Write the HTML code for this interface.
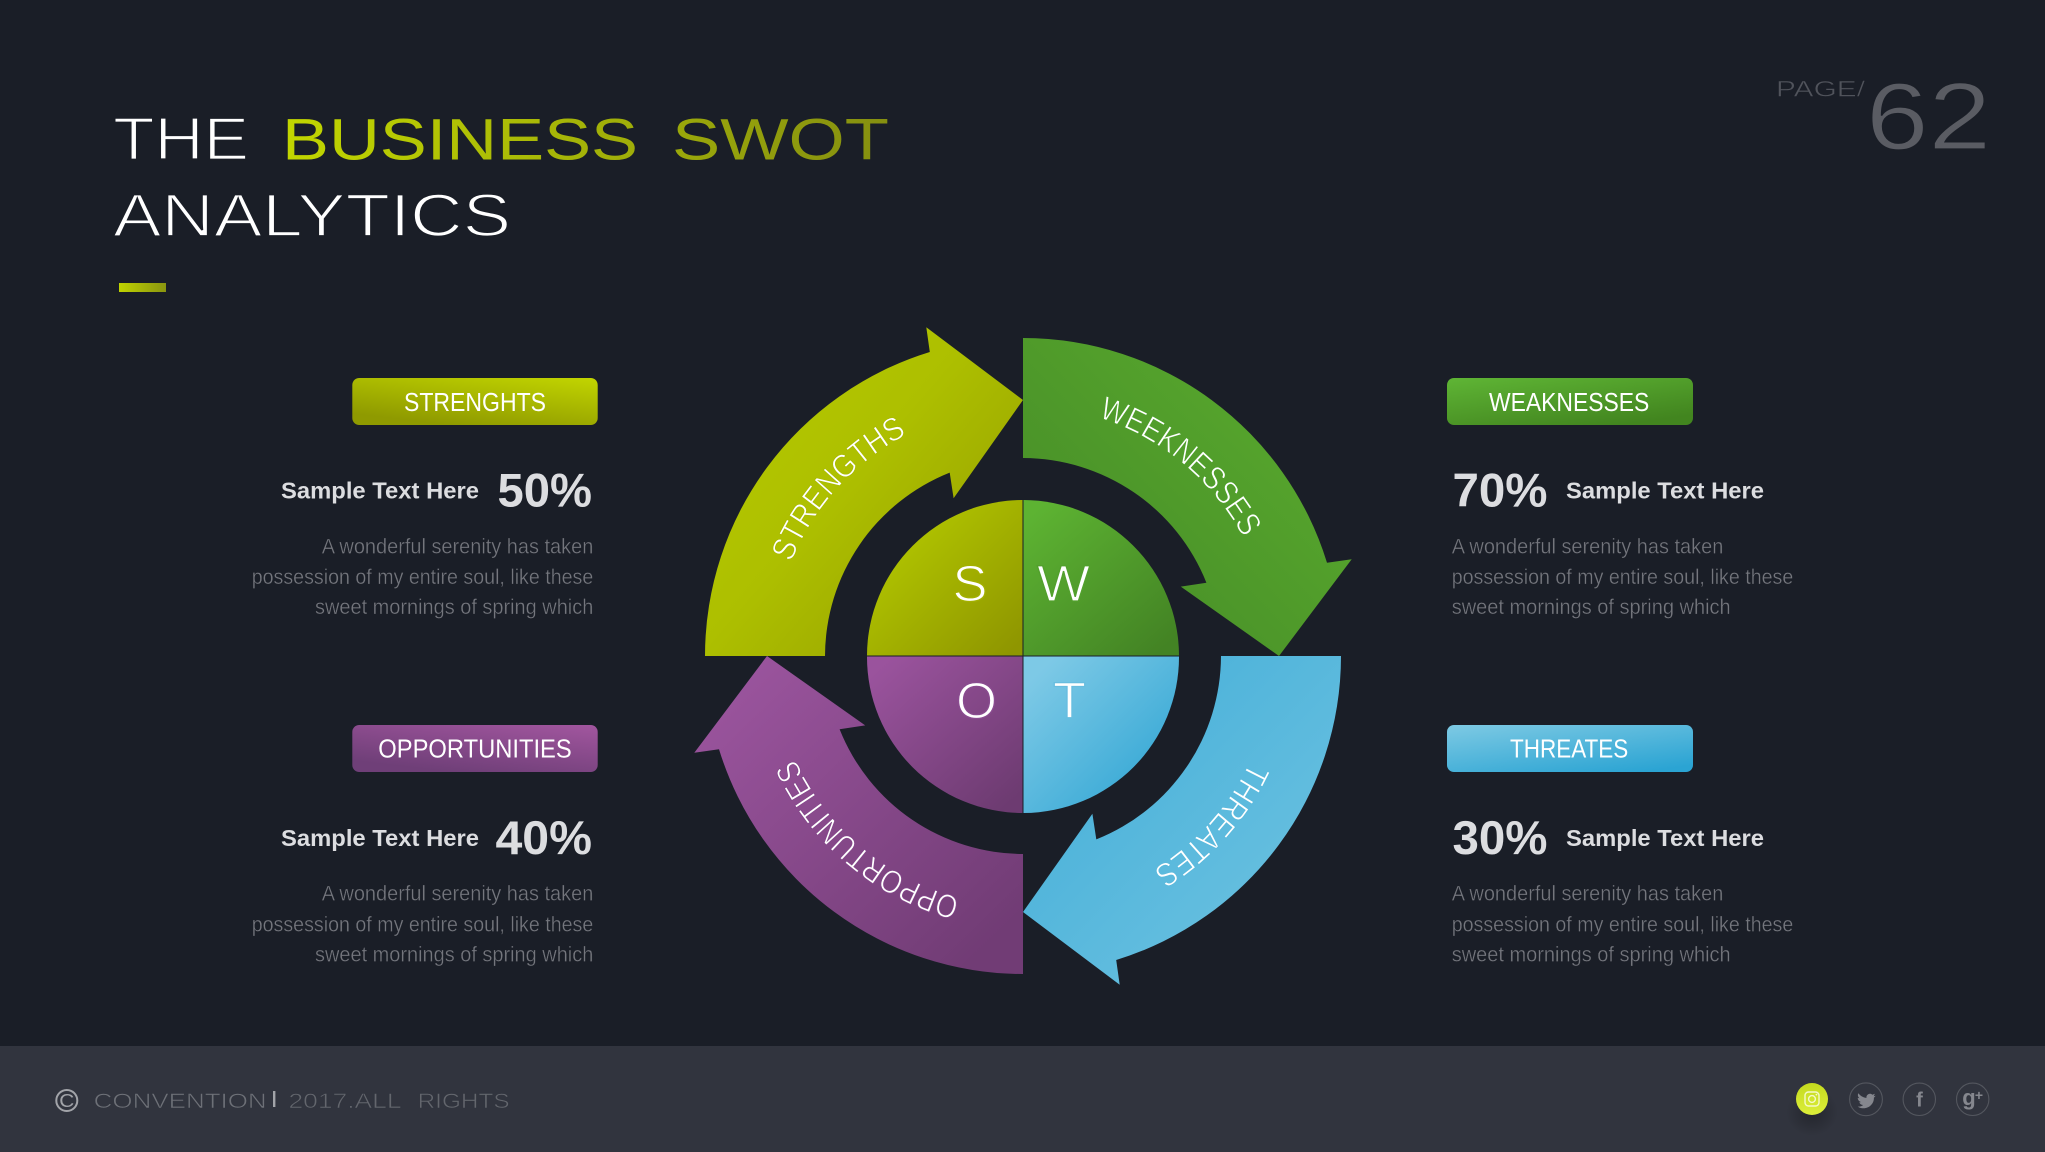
<!DOCTYPE html>
<html><head><meta charset="utf-8"><title>SWOT</title>
<style>
html,body{margin:0;padding:0;background:#1a1e27;width:2045px;height:1152px;overflow:hidden}
svg{display:block;font-family:"Liberation Sans",sans-serif}
.b{font-weight:700;fill:#dcdde0}
.st{font-size:23px}
.pc{font-size:47px}
.p{font-size:21.5px;fill:#74767d;stroke:#1a1e27;stroke-width:.35px}
.pl{font-size:25.5px;fill:#fff;stroke-width:0}
.arc{font-size:33px;fill:#fff;stroke-width:.8px}
.L{font-size:51px;fill:#fff}
.thin{stroke:#1a1e27;stroke-width:1.7px}
</style></head><body>
<svg width="2045" height="1152" viewBox="0 0 2045 1152" xmlns="http://www.w3.org/2000/svg">
<defs>
<linearGradient id="gS" x1="0.05" y1="0.1" x2="0.95" y2="0.9"><stop offset="0" stop-color="#b6ca00"/><stop offset=".45" stop-color="#adbf00"/><stop offset="1" stop-color="#949e00"/></linearGradient>
<linearGradient id="gW" x1="0.95" y1="0.1" x2="0.1" y2="0.9"><stop offset="0" stop-color="#5aab2e"/><stop offset="1" stop-color="#468c27"/></linearGradient>
<linearGradient id="gT" x1="0.1" y1="0.1" x2="0.9" y2="0.9"><stop offset="0" stop-color="#46afd8"/><stop offset="1" stop-color="#6cc2e1"/></linearGradient>
<linearGradient id="gO" x1="0.1" y1="0.1" x2="0.9" y2="0.9"><stop offset="0" stop-color="#9a549d"/><stop offset="1" stop-color="#713c75"/></linearGradient>
<linearGradient id="qS" x1="0.15" y1="0.15" x2="0.95" y2="0.95"><stop offset="0" stop-color="#b3c800"/><stop offset="1" stop-color="#8f9600"/></linearGradient>
<linearGradient id="qW" x1="0.1" y1="0.05" x2="0.9" y2="0.95"><stop offset="0" stop-color="#5db332"/><stop offset="1" stop-color="#438324"/></linearGradient>
<linearGradient id="qT" x1="0.1" y1="0.1" x2="0.8" y2="0.8"><stop offset="0" stop-color="#7dc9e6"/><stop offset="1" stop-color="#3aaad6"/></linearGradient>
<linearGradient id="qO" x1="0.1" y1="0.05" x2="0.9" y2="0.95"><stop offset="0" stop-color="#9a539d"/><stop offset="1" stop-color="#6d3b71"/></linearGradient>
<linearGradient id="pS" x1="1" y1="0" x2="0.4" y2="1"><stop offset="0" stop-color="#c2d500"/><stop offset="1" stop-color="#8f9a00"/></linearGradient>
<linearGradient id="pW" x1="0" y1="0" x2="0.7" y2="1"><stop offset="0" stop-color="#5fb535"/><stop offset="1" stop-color="#42851f"/></linearGradient>
<linearGradient id="pT" x1="0.1" y1="0" x2="0.8" y2="1"><stop offset="0" stop-color="#7ac8e3"/><stop offset="1" stop-color="#2ba4d3"/></linearGradient>
<linearGradient id="pO" x1="1" y1="0" x2="0.4" y2="1"><stop offset="0" stop-color="#a2569f"/><stop offset="1" stop-color="#6f3f78"/></linearGradient>
<linearGradient id="gTitle" gradientUnits="userSpaceOnUse" x1="285" y1="0" x2="887" y2="0"><stop offset="0" stop-color="#c2d600"/><stop offset="1" stop-color="#858f10"/></linearGradient>
<linearGradient id="gBar" x1="0" y1="0" x2="1" y2="0"><stop offset="0" stop-color="#bfd300"/><stop offset="1" stop-color="#8a9510"/></linearGradient>
<linearGradient id="gIg" x1="0.5" y1="0" x2="0.5" y2="1"><stop offset="0" stop-color="#c4da1e"/><stop offset="1" stop-color="#dcee3a"/></linearGradient>
<radialGradient id="sh"><stop offset="0" stop-color="#000" stop-opacity=".28"/><stop offset="1" stop-color="#000" stop-opacity="0"/></radialGradient>
<path id="aS" d="M791.2,562.4 A250,250 0 0 1 979.6,409.8"/>
<path id="aW" d="M1098.2,417.6 A250,250 0 0 1 1273,656"/>
<path id="aT" d="M1249.6,761.7 A250,250 0 0 1 1023,906"/>
<path id="aO" d="M960,897.9 A250,250 0 0 1 773,656"/>
</defs>

<rect width="2045" height="1152" fill="#1a1e27"/>
<rect y="1046" width="2045" height="106" fill="#31343e"/>

<!-- Title -->
<text x="113" y="159.3" font-size="60" fill="#fff" class="thin" textLength="136" lengthAdjust="spacingAndGlyphs">THE</text>
<text x="282" y="159.3" font-size="58" fill="url(#gTitle)" textLength="356" lengthAdjust="spacingAndGlyphs">BUSINESS</text>
<text x="672" y="159.3" font-size="58" fill="url(#gTitle)" textLength="217" lengthAdjust="spacingAndGlyphs">SWOT</text>
<text x="113" y="236" font-size="60" fill="#fff" class="thin" textLength="398" lengthAdjust="spacingAndGlyphs">ANALYTICS</text>
<rect x="119" y="283" width="47" height="9" fill="url(#gBar)"/>

<!-- Page -->
<text x="1776" y="96.7" font-size="22" fill="#50535b" stroke="#1a1e27" stroke-width=".5" textLength="89" lengthAdjust="spacingAndGlyphs">PAGE/</text>
<text x="1866" y="149" font-size="95" fill="#5a5c63" stroke="#1a1e27" stroke-width="1.2" textLength="125" lengthAdjust="spacingAndGlyphs">62</text>

<!-- Arrows -->
<path fill="url(#gS)" d="M705,656 A318,318 0 0 1 929.8,352 L926.3,327.3 L1023,400 L953.6,498.2 L949.7,472.6 A198,198 0 0 0 825,656 Z"/>
<path fill="url(#gW)" d="M1023,338 A318,318 0 0 1 1327,562.8 L1351.7,559.3 L1279,656 L1180.8,586.6 L1206.4,582.7 A198,198 0 0 0 1023,458 Z"/>
<path fill="url(#gT)" d="M1341,656 A318,318 0 0 1 1116.2,960 L1119.7,984.7 L1023,912 L1092.4,813.8 L1096.3,839.4 A198,198 0 0 0 1221,656 Z"/>
<path fill="url(#gO)" d="M1023,974 A318,318 0 0 1 719,749.2 L694.3,752.7 L767,656 L865.2,725.4 L839.6,729.3 A198,198 0 0 0 1023,854 Z"/>

<!-- Quadrants -->
<path fill="url(#qS)" d="M1022.5,655.5 H867 A156,156 0 0 1 1022.5,500 Z"/>
<path fill="url(#qW)" d="M1023.5,655.5 V500 A156,156 0 0 1 1179,655.5 Z"/>
<path fill="url(#qT)" d="M1023.5,656.5 H1179 A156,156 0 0 1 1023.5,813 Z"/>
<path fill="url(#qO)" d="M1022.5,656.5 V813 A156,156 0 0 1 867,656.5 Z"/>

<text class="L" x="952.5" y="601" stroke="#a3b000" stroke-width="1.3" textLength="35" lengthAdjust="spacingAndGlyphs">S</text>
<text class="L" x="1037" y="601" stroke="#52a02c" stroke-width="1.3" textLength="53" lengthAdjust="spacingAndGlyphs">W</text>
<text class="L" x="956" y="718" stroke="#8a4c90" stroke-width="1.3" textLength="41" lengthAdjust="spacingAndGlyphs">O</text>
<text class="L" x="1053" y="718" stroke="#68bddf" stroke-width="1.3" textLength="33" lengthAdjust="spacingAndGlyphs">T</text>

<!-- Arc labels -->
<text class="arc" stroke="#a9ba00"><textPath href="#aS" textLength="176" lengthAdjust="spacingAndGlyphs">STRENGTHS</textPath></text>
<text class="arc" stroke="#50a02c"><textPath href="#aW" textLength="193" lengthAdjust="spacingAndGlyphs">WEEKNESSES</textPath></text>
<text class="arc" stroke="#5cb9dc"><textPath href="#aT" textLength="147" lengthAdjust="spacingAndGlyphs">THREATES</textPath></text>
<text class="arc" stroke="#84478a"><textPath href="#aO" textLength="223" lengthAdjust="spacingAndGlyphs">OPPORTUNITIES</textPath></text>

<!-- Left top -->
<rect x="352.3" y="378" width="245.4" height="47" rx="7" fill="url(#pS)"/>
<text class="pl" x="404" y="411" textLength="142" lengthAdjust="spacingAndGlyphs">STRENGHTS</text>
<text class="b st" x="281" y="498.3" textLength="198" lengthAdjust="spacingAndGlyphs">Sample Text Here</text>
<text class="b pc" x="497.5" y="506.7" textLength="94.5" lengthAdjust="spacingAndGlyphs">50%</text>
<text class="p" x="321.7" y="553.3" textLength="271.6" lengthAdjust="spacingAndGlyphs">A wonderful serenity has taken</text>
<text class="p" x="251.7" y="584" textLength="341.6" lengthAdjust="spacingAndGlyphs">possession of my entire soul, like these</text>
<text class="p" x="315" y="614" textLength="278.3" lengthAdjust="spacingAndGlyphs">sweet mornings of spring which</text>

<!-- Left bottom -->
<rect x="352.3" y="725" width="245.4" height="47" rx="7" fill="url(#pO)"/>
<text class="pl" x="378.3" y="757.7" textLength="193.4" lengthAdjust="spacingAndGlyphs">OPPORTUNITIES</text>
<text class="b st" x="281" y="846" textLength="198" lengthAdjust="spacingAndGlyphs">Sample Text Here</text>
<text class="b pc" x="495.5" y="854" textLength="96.5" lengthAdjust="spacingAndGlyphs">40%</text>
<text class="p" x="321.7" y="900.7" textLength="271.6" lengthAdjust="spacingAndGlyphs">A wonderful serenity has taken</text>
<text class="p" x="251.7" y="931.3" textLength="341.6" lengthAdjust="spacingAndGlyphs">possession of my entire soul, like these</text>
<text class="p" x="315" y="961.3" textLength="278.3" lengthAdjust="spacingAndGlyphs">sweet mornings of spring which</text>

<!-- Right top -->
<rect x="1447" y="378" width="246" height="47" rx="7" fill="url(#pW)"/>
<text class="pl" x="1489" y="411" textLength="160.3" lengthAdjust="spacingAndGlyphs">WEAKNESSES</text>
<text class="b pc" x="1452.5" y="506.7" textLength="95" lengthAdjust="spacingAndGlyphs">70%</text>
<text class="b st" x="1566" y="498.3" textLength="198" lengthAdjust="spacingAndGlyphs">Sample Text Here</text>
<text class="p" x="1451.7" y="553.3" textLength="271.6" lengthAdjust="spacingAndGlyphs">A wonderful serenity has taken</text>
<text class="p" x="1451.7" y="584" textLength="341.6" lengthAdjust="spacingAndGlyphs">possession of my entire soul, like these</text>
<text class="p" x="1451.7" y="614" textLength="279" lengthAdjust="spacingAndGlyphs">sweet mornings of spring which</text>

<!-- Right bottom -->
<rect x="1447" y="725" width="246" height="47" rx="7" fill="url(#pT)"/>
<text class="pl" x="1510" y="757.7" textLength="118.3" lengthAdjust="spacingAndGlyphs">THREATES</text>
<text class="b pc" x="1452.5" y="854" textLength="95" lengthAdjust="spacingAndGlyphs">30%</text>
<text class="b st" x="1566" y="846" textLength="198" lengthAdjust="spacingAndGlyphs">Sample Text Here</text>
<text class="p" x="1451.7" y="900.7" textLength="271.6" lengthAdjust="spacingAndGlyphs">A wonderful serenity has taken</text>
<text class="p" x="1451.7" y="931.3" textLength="341.6" lengthAdjust="spacingAndGlyphs">possession of my entire soul, like these</text>
<text class="p" x="1451.7" y="961.3" textLength="279" lengthAdjust="spacingAndGlyphs">sweet mornings of spring which</text>

<!-- Footer -->
<circle cx="66.8" cy="1100.5" r="10.5" fill="none" stroke="#a2a4a9" stroke-width="2"/>
<text x="59.3" y="1106.8" font-size="18" fill="#a2a4a9" textLength="15" lengthAdjust="spacingAndGlyphs">C</text>
<text x="93.7" y="1108" font-size="21" fill="#6d7077" stroke="#31343e" stroke-width=".6" textLength="173" lengthAdjust="spacingAndGlyphs">CONVENTION</text>
<rect x="273" y="1091" width="2.4" height="16" fill="#a2a4a9"/>
<text x="288.5" y="1108" font-size="21" fill="#63666d" stroke="#31343e" stroke-width=".6" textLength="113" lengthAdjust="spacingAndGlyphs">2017.ALL</text>
<text x="417.6" y="1108" font-size="21" fill="#63666d" stroke="#31343e" stroke-width=".6" textLength="92" lengthAdjust="spacingAndGlyphs">RIGHTS</text>

<!-- Icons -->
<ellipse cx="1812" cy="1112" rx="26" ry="24" fill="url(#sh)"/>
<circle cx="1812" cy="1099" r="16" fill="url(#gIg)"/>
<rect x="1805" y="1092" width="14" height="14" rx="3.5" fill="none" stroke="#f4f8c8" stroke-width="1.4"/>
<circle cx="1812" cy="1099" r="3.4" fill="none" stroke="#f4f8c8" stroke-width="1.4"/>
<circle cx="1816.4" cy="1094.6" r=".9" fill="#f4f8c8"/>
<g fill="none" stroke="#54575f" stroke-width="1.1">
<circle cx="1866" cy="1099.3" r="16.4"/>
<circle cx="1919.3" cy="1099.3" r="16.2"/>
<circle cx="1972.7" cy="1099.3" r="16.2"/>
</g>
<path fill="#85878e" d="M1858.5,1093.5 c2.5,2.8 5,4.2 8,4.4 c-.6,-3.4 3.4,-5.6 5.8,-3.2 l2.6,-1 l-1.2,2.5 l2,-.4 l-1.8,2 c.2,5.8 -4.6,10.5 -10.2,10.5 c-2.4,0 -4.4,-.6 -6,-1.7 c2.2,.2 4,-.4 5.4,-1.6 c-2,-.1 -3.2,-1.2 -3.8,-2.8 l1.8,-.1 c-2.2,-.7 -3.2,-2.2 -3.4,-4.2 l1.9,.5 c-1.8,-1.6 -2.2,-3.6 -1.1,-5.4 z"/>
<text x="1919.5" y="1106.5" font-size="20" font-weight="700" fill="#85878e" text-anchor="middle">f</text>
<text x="1969" y="1105" font-size="22" font-weight="700" fill="#85878e" text-anchor="middle">g</text>
<text x="1979" y="1100" font-size="14" font-weight="700" fill="#85878e" text-anchor="middle">+</text>
</svg>
</body></html>
